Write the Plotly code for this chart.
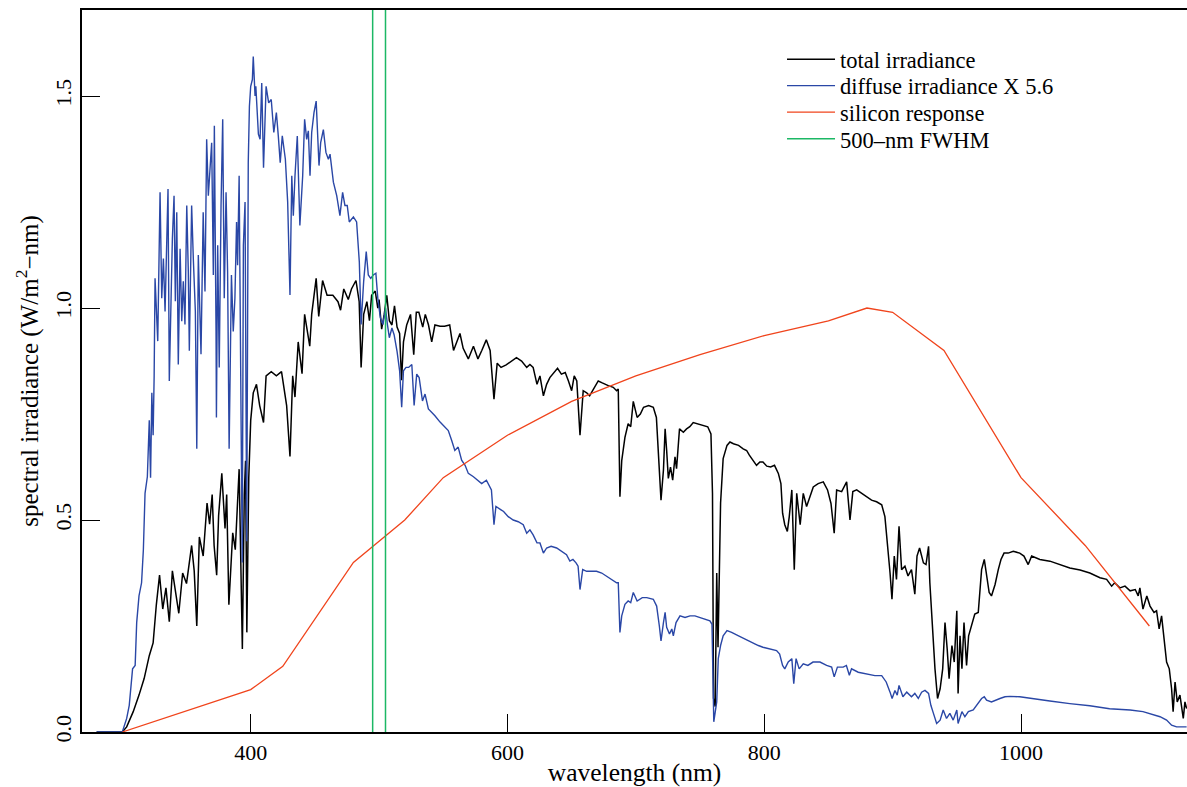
import plotly.graph_objects as go

# ---- data ----
total_nm = [280, 300, 303.4, 308.5, 313, 317, 321, 324, 326.5, 329, 331.5, 334, 336.6, 339, 342, 344, 347, 350,
            354, 356, 358, 360, 363, 366, 368, 370, 371.5, 373.5, 375, 377.5, 380, 381.3, 383, 386, 388, 391, 393.5,
            395, 396, 397, 398.5, 400, 402, 404.5, 407, 410, 412, 416, 420, 424, 428, 430.6, 432.7, 434.5, 437, 440,
            442, 446, 447.5, 451, 453, 456, 459.5, 464, 468, 470, 472.5, 476, 478.5, 482, 484.5, 486, 488, 490.5,
            492.5, 494.2, 497, 499, 500, 502, 504, 506, 508, 510, 512, 514, 516, 517.5, 519, 521.5, 524.5, 527, 529,
            531, 534, 536, 538.5, 541, 543.5, 547.5, 551, 555, 558, 560.5, 563, 565.5, 569.5, 573.5, 577, 580, 583.5,
            586.5, 589.5, 592, 595, 599, 603, 607, 611, 615, 617.5, 620, 623, 625.3, 628, 630.5, 633, 636, 639, 642,
            645, 647.5, 650, 652, 654, 656.5, 659, 661.7, 664, 667, 670.7, 673.4, 676, 678.5, 682.4, 685, 686.3,
            687.6, 689, 691.5, 694, 696, 698, 701, 703.5, 706, 710, 713.6, 716, 717.5, 719.6, 721.5, 722.8, 724,
            725.3, 727, 728.7, 730.5, 731.7, 734, 737, 739.5, 742, 744.7, 748.6, 752.5, 756, 758.5, 759.7, 760.5,
            761.8, 763, 764, 766, 768, 771, 773.3, 776, 780, 783.6, 786.3, 788.4, 791.5, 794, 796.6, 799, 802, 805,
            808, 811, 813, 814.3, 816, 818, 819.5, 821.5, 823.4, 825.3, 828, 830.4, 833, 835.6, 838.2, 842, 846,
            849.3, 852, 854.5, 856.4, 860.3, 864.2, 866.8, 869, 872, 876, 880, 883.6, 887.5, 891.5, 894, 896.5, 898,
            899.5, 901.3, 903, 905, 907, 909.6, 912, 914.7, 917.3, 919, 921, 924, 926, 928, 929, 931.1, 933, 935,
            937, 939, 940.8, 942.5, 944, 946.2, 948, 950, 951, 952.5, 954, 955.6, 957.6, 959.2, 961.5, 964, 966.7,
            969.3, 971.4, 973.2, 975.2, 977, 979.8, 982.3, 984.4, 986.8, 990, 994, 999, 1002.3, 1005.6, 1008.3,
            1014.7, 1022.5, 1030, 1038, 1046, 1053.6, 1061.5, 1066.7, 1070.6, 1073, 1077, 1081, 1085, 1089, 1091.3,
            1092.6, 1095, 1098, 1100.5, 1103.6, 1105.6, 1107.6, 1109.5, 1111.3, 1113.4, 1115.5, 1117.3, 1118.5, 1120,
            1121.7, 1123.8, 1126.4, 1127.7, 1129]
total_irr = [0, 0, 0.012, 0.048, 0.087, 0.126, 0.18, 0.21, 0.30, 0.37, 0.29, 0.34, 0.26, 0.38, 0.32, 0.28, 0.375, 0.35,
             0.44, 0.38, 0.25, 0.46, 0.415, 0.54, 0.49, 0.56, 0.44, 0.37, 0.51, 0.61, 0.48, 0.56, 0.30, 0.47, 0.43, 0.62,
             0.196, 0.56, 0.64, 0.235, 0.60, 0.735, 0.80, 0.82, 0.77, 0.73, 0.84, 0.85, 0.84, 0.85, 0.77, 0.65, 0.84, 0.79,
             0.92, 0.845, 0.985, 0.91, 0.985, 1.07, 0.98, 1.065, 1.03, 1.03, 1.015, 0.995, 1.045, 1.02, 1.045, 1.065,
             1.015, 0.86, 0.985, 1.015, 0.97, 1.03, 1.04, 1.0, 1.02, 0.95, 0.985, 1.03, 0.97, 0.96, 1.005, 0.955, 0.94,
             0.83, 0.92, 0.96, 0.985, 0.89, 0.99, 0.99, 0.955, 0.985, 0.96, 0.92, 0.96, 0.957, 0.957, 0.96, 0.90, 0.92,
             0.94, 0.905, 0.88, 0.91, 0.88, 0.90, 0.925, 0.90, 0.785, 0.87, 0.86, 0.866, 0.875, 0.883, 0.875, 0.86,
             0.867, 0.86, 0.82, 0.84, 0.793, 0.82, 0.836, 0.848, 0.858, 0.844, 0.848, 0.828, 0.805, 0.84, 0.828, 0.70,
             0.805, 0.80, 0.793, 0.809, 0.828, 0.824, 0.82, 0.817, 0.813, 0.805, 0.809, 0.555, 0.64, 0.695, 0.727, 0.72,
             0.78, 0.742, 0.75, 0.766, 0.77, 0.766, 0.742, 0.664, 0.547, 0.618, 0.715, 0.664, 0.598, 0.625, 0.594,
             0.649, 0.621, 0.715, 0.707, 0.715, 0.72, 0.73, 0.727, 0.723, 0.72, 0.703, 0.563, 0.08, 0.06, 0.375, 0.20,
             0.54, 0.645, 0.676, 0.684, 0.68, 0.676, 0.668, 0.664, 0.653, 0.641, 0.629, 0.637, 0.637, 0.627, 0.625,
             0.629, 0.61, 0.586, 0.516, 0.489, 0.473, 0.508, 0.571, 0.383, 0.563, 0.489, 0.563, 0.532, 0.555, 0.578,
             0.586, 0.59, 0.571, 0.539, 0.469, 0.571, 0.567, 0.59, 0.50, 0.567, 0.571, 0.563, 0.555, 0.547, 0.543,
             0.536, 0.508, 0.43, 0.375, 0.313, 0.415, 0.36, 0.485, 0.383, 0.391, 0.368, 0.383, 0.325, 0.415, 0.434,
             0.399, 0.395, 0.438, 0.352, 0.243, 0.149, 0.079, 0.102, 0.149, 0.258, 0.196, 0.126, 0.204, 0.165, 0.286,
             0.091, 0.227, 0.149, 0.258, 0.157, 0.227, 0.25, 0.278, 0.282, 0.383, 0.407, 0.368, 0.329, 0.321, 0.348,
             0.383, 0.407, 0.422, 0.422, 0.426, 0.422, 0.415, 0.395, 0.415, 0.407, 0.403, 0.395, 0.387, 0.382, 0.375,
             0.364, 0.36, 0.344, 0.352, 0.34, 0.344, 0.333, 0.336, 0.321, 0.34, 0.29, 0.321, 0.297, 0.282, 0.286,
             0.243, 0.274, 0.227, 0.165, 0.149, 0.102, 0.048, 0.118, 0.071, 0.087, 0.032, 0.071, 0.055]

diffuse_nm = [280, 300, 303.4, 305.4, 308, 310, 311.2, 313, 315, 316.4, 317.7, 319.5, 321, 322, 323, 324, 324.8, 325.5,
              327.6, 329.4, 330.7, 332, 333.3, 334.6, 335.6, 336.6, 338, 339, 340.3, 341.3, 342.4, 343.6, 345, 346.3,
              347.5, 348.8, 350.2, 351.4, 352.2, 354, 355.3, 356.9, 358, 359.2, 361.3, 363, 364.4, 365.7, 367, 368.3,
              369.6, 370.9, 371.7, 373, 373.3, 374.3, 375.5, 376.9, 378.2, 379.4, 380.8, 382, 383.2, 385, 386.4, 387.7,
              389, 389.8, 391, 393.4, 394.3, 395.6, 396.9, 398.1, 399, 400, 401.3, 402, 403.4, 404, 406, 407.3, 408.6,
              410, 412, 414, 416, 418, 420, 421.5, 423, 424.6, 427, 428.8, 430.6, 432, 433.2, 434.5, 436.3, 438.3,
              440.5, 442, 443.6, 444.9, 446.2, 447.5, 449.3, 451, 453.2, 454.5, 456.6, 458.6, 460.5, 461.8, 464.4, 467,
              469.5, 471.6, 473.4, 475.2, 476.8, 480, 482.5, 484.6, 486, 488, 490, 491.6, 493.5, 495.5, 497.5, 499, 501,
              503, 505, 506.5, 508, 510, 511.7, 514, 516, 517.6, 519, 521, 523, 525.5, 527.3, 529.3, 531.2, 533.8,
              535.8, 538.4, 541, 543.5, 547.5, 551, 553.9, 556.5, 559, 561.6, 564.3, 567, 569.5, 573.5, 577, 579.9,
              583.6, 587.5, 589.5, 591, 595, 597, 600.6, 604.5, 608.4, 612.3, 615, 617.5, 620, 623, 625.3, 628, 630.5,
              634, 638.3, 642, 646, 648.6, 651, 653.4, 655, 656.5, 658.6, 661.7, 665.5, 669.4, 673.4, 677, 681, 685,
              686.3, 687.6, 689, 691.5, 694, 696, 698, 701, 705, 708.5, 713.6, 716.2, 718.3, 719.6, 721.5, 722.8, 724,
              726.2, 728, 729.2, 731.3, 734.4, 738.3, 742.2, 746, 750, 753.8, 757.7, 759.3, 760.7, 763, 764.2, 766, 768,
              771, 774.6, 780, 785, 790.2, 795.4, 799, 804.5, 809.6, 812, 814.3, 816, 818.7, 821.5, 823, 824.8, 827.2,
              830.4, 834, 838, 843.4, 848.6, 852.5, 854.5, 857, 861.5, 864, 866.3, 868, 873.2, 880, 886.2, 891.5, 895,
              898, 899.6, 901.8, 903.6, 905, 908, 911, 914.7, 917.3, 920, 922.6, 925.2, 928, 929.8, 931.8, 934.3, 937,
              939.4, 942, 944.6, 947.2, 950, 951, 954, 956.3, 959, 962.8, 966.7, 969.3, 971.4, 973.2, 977, 979.8, 983.6,
              987.5, 991.4, 999, 1007, 1022.5, 1038, 1053.6, 1069, 1085, 1095, 1103, 1108.3, 1113.4, 1117.3, 1121.2,
              1129]
diffuse_x56 = [0, 0, 0.032, 0.063, 0.149, 0.157, 0.258, 0.321, 0.352, 0.43, 0.563, 0.602, 0.735, 0.60, 0.80, 0.70, 0.84,
               1.07, 0.922, 1.273, 1.023, 1.117, 0.992, 1.156, 1.281, 0.828, 1.07, 1.164, 1.265, 1.016, 1.226, 0.867,
               1.14, 0.969, 1.063, 0.961, 1.242, 1.086, 0.899, 1.242, 1.117, 0.992, 0.668, 1.125, 0.891, 1.226, 1.039,
               1.398, 1.265, 1.328, 1.39, 1.078, 1.43, 0.945, 0.742, 1.148, 0.86, 1.242, 1.445, 1.023, 1.273, 1.086,
               0.668, 1.078, 0.945, 1.023, 1.203, 1.101, 1.312, 0.40, 1.148, 1.25, 0.45, 1.343, 1.476, 1.523, 1.539,
               1.593, 1.50, 1.523, 1.41, 1.398, 1.531, 1.331, 1.523, 1.484, 1.492, 1.414, 1.461, 1.406, 1.343, 1.406,
               1.351, 1.25, 1.031, 1.312, 1.218, 1.312, 1.406, 1.195, 1.312, 1.445, 1.398, 1.418, 1.312, 1.414, 1.461,
               1.488, 1.336, 1.39, 1.421, 1.367, 1.351, 1.363, 1.297, 1.265, 1.218, 1.273, 1.242, 1.242, 1.203, 1.215,
               1.203, 1.109, 0.961, 1.063, 1.133, 1.078, 1.07, 1.078, 1.082, 1.023, 0.977, 0.961, 1.0, 0.961, 0.93,
               0.953, 0.937, 0.898, 0.852, 0.766, 0.852, 0.86, 0.86, 0.867, 0.77, 0.844, 0.836, 0.781, 0.797, 0.762,
               0.754, 0.746, 0.731, 0.719, 0.711, 0.688, 0.664, 0.672, 0.641, 0.629, 0.61, 0.602, 0.594, 0.586, 0.594,
               0.571, 0.489, 0.532, 0.524, 0.52, 0.508, 0.50, 0.496, 0.489, 0.469, 0.477, 0.465, 0.446, 0.446, 0.422,
               0.434, 0.438, 0.434, 0.426, 0.418, 0.403, 0.407, 0.399, 0.391, 0.336, 0.383, 0.379, 0.379, 0.379, 0.375,
               0.368, 0.36, 0.352, 0.352, 0.235, 0.274, 0.301, 0.309, 0.305, 0.329, 0.309, 0.317, 0.317, 0.313, 0.297,
               0.25, 0.215, 0.258, 0.282, 0.247, 0.231, 0.243, 0.227, 0.258, 0.274, 0.27, 0.274, 0.274, 0.27, 0.266,
               0.262, 0.254, 0.024, 0.071, 0.173, 0.204, 0.227, 0.239, 0.235, 0.227, 0.219, 0.211, 0.204, 0.20, 0.196,
               0.192, 0.184, 0.157, 0.149, 0.165, 0.173, 0.114, 0.173, 0.149, 0.161, 0.157, 0.165, 0.165, 0.157, 0.153,
               0.13, 0.153, 0.153, 0.157, 0.134, 0.149, 0.141, 0.137, 0.133, 0.133, 0.118, 0.094, 0.079, 0.098, 0.087,
               0.11, 0.083, 0.094, 0.083, 0.091, 0.079, 0.094, 0.098, 0.091, 0.063, 0.044, 0.02, 0.028, 0.052, 0.032,
               0.044, 0.028, 0.052, 0.02, 0.048, 0.036, 0.048, 0.052, 0.067, 0.079, 0.083, 0.075, 0.071, 0.075, 0.079,
               0.083, 0.084, 0.083, 0.079, 0.073, 0.067, 0.062, 0.055, 0.052, 0.048, 0.04, 0.036, 0.028, 0.016, 0.012,
               0.012]

silicon_nm = [300, 400, 425, 480, 520, 550, 600, 650, 700, 750, 800, 850, 880, 900, 940, 1000, 1050, 1100]
silicon_resp = [0.0, 0.10, 0.155, 0.40, 0.50, 0.60, 0.70, 0.78, 0.84, 0.89, 0.935, 0.97, 1.0, 0.99, 0.90, 0.60, 0.44, 0.25]

fwhm_nm = [495, 505]

x_ticks = [400, 600, 800, 1000]
y_ticks = [0.0, 0.5, 1.0, 1.5]

FONT = "Liberation Serif"

fig = go.Figure()
fig.add_trace(go.Scatter(x=total_nm, y=total_irr, mode="lines", name="total irradiance",
                         line=dict(color="black", width=1.5), legend="legend"))
fig.add_trace(go.Scatter(x=diffuse_nm, y=diffuse_x56, mode="lines", name="diffuse irradiance X 5.6",
                         line=dict(color="#2a47a6", width=1.4), legend="legend2"))
fig.add_trace(go.Scatter(x=silicon_nm, y=silicon_resp, mode="lines", name="silicon response",
                         line=dict(color="#f0441c", width=1.3), legend="legend3"))
gx, gy = [], []
for w in fwhm_nm:
    gx += [w, w, None]
    gy += [0, 2, None]
fig.add_trace(go.Scatter(x=gx, y=gy, mode="lines", name="500\u2013nm FWHM",
                         line=dict(color="#1cb865", width=1.5), legend="legend4"))

def leg(y):
    return dict(x=0.6335, y=y, xanchor="left", yanchor="top", bgcolor="rgba(0,0,0,0)",
                borderwidth=0, font=dict(family=FONT, size=22.5, color="black"), itemwidth=48)

fig.update_layout(
    width=1187, height=787,
    margin=dict(l=82, r=0, t=10, b=50),
    paper_bgcolor="white", plot_bgcolor="white",
    font=dict(family=FONT, size=22, color="black"),
    showlegend=True,
    legend=leg(0.9610), legend2=leg(0.9245), legend3=leg(0.8878), legend4=leg(0.8508),
    xaxis=dict(range=[268.6, 1129.3], tickvals=x_ticks, ticks="inside", ticklen=18, tickwidth=1.3,
               tickcolor="black", showline=True, linecolor="black", linewidth=1.5, mirror=True,
               showgrid=False, zeroline=False,
               title=dict(text="wavelength (nm)", font=dict(size=25.5), standoff=4)),
    yaxis=dict(range=[0, 1.703], tickvals=y_ticks, tickformat=".1f", ticks="inside", ticklen=18,
               tickwidth=1.3, tickcolor="black", showline=True, linecolor="black", linewidth=1.5,
               mirror=False, showgrid=False, zeroline=False, tickangle=-90,
               title=dict(text="spectral irradiance (W/m<sup>2</sup>\u2212nm)", font=dict(size=25), standoff=6)),
)

fig.write_html("out.html")
